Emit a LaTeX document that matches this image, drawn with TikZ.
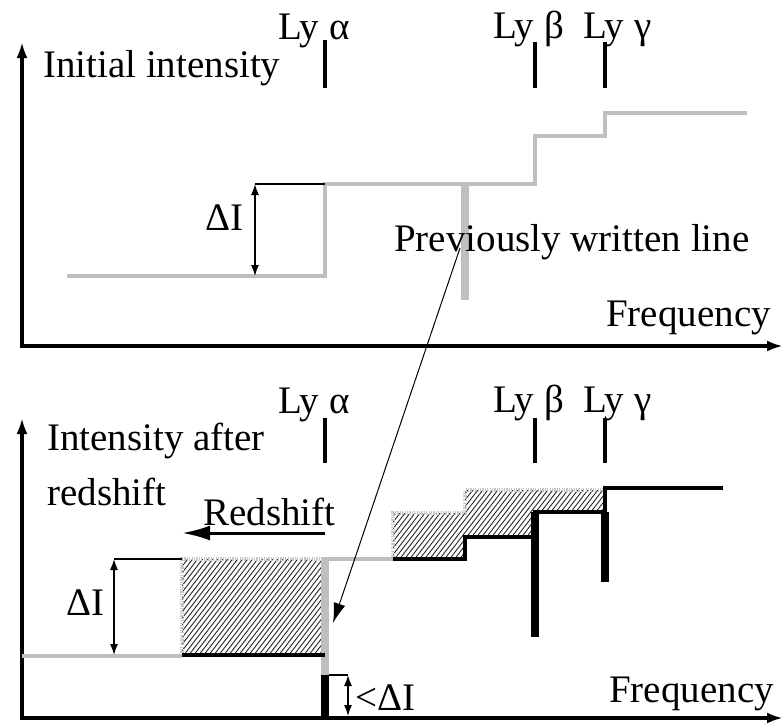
\documentclass[tikz,border=0pt]{standalone}
\usepackage{fontspec}
\setmainfont{Liberation Serif}
\usetikzlibrary{arrows.meta}
\begin{document}
\begin{tikzpicture}[x=1pt,y=-1pt,
  lbl/.style={inner sep=0pt,anchor=base west,font=\fontsize{39}{41}\selectfont},
  axis/.style={line width=3.5pt,{Latex[length=16pt,width=11pt]}-{Latex[length=16pt,width=11pt]}},
  grayline/.style={line width=4pt,draw=gray!50},
  blackline/.style={line width=4pt,draw=black},
  tickmark/.style={line width=4pt},
  thin/.style={line width=1.1pt},
  dimarrow/.style={line width=1.3pt,{Latex[length=11pt,width=8pt]}-{Latex[length=11pt,width=8pt]}},
  dotgray/.style={line width=3.5pt,draw=gray!45,dash pattern=on 1.2pt off 1.2pt},
  hatchline/.style={line width=0.9pt,draw=black!85}]
\useasboundingbox (0,0) rectangle (784,723);
% ---------------- top panel ----------------
\coordinate (ya1) at (22,42);
\coordinate (o1) at (22,346);
\coordinate (xa1) at (783,346);
\draw[axis] (ya1) -- (o1) -- (xa1);
\node[lbl] (ii) at (43,77) {Initial intensity};
\node[lbl] (la1) at (278,39) {Ly α};
\node[lbl] (lb1) at (493,38) {Ly β};
\node[lbl] (lg1) at (583,38) {Ly γ};
\coordinate (ta1) at (325,40); \coordinate (ta1b) at (325,88);
\coordinate (tb1) at (535,42); \coordinate (tb1b) at (535,88);
\coordinate (tg1) at (605,42); \coordinate (tg1b) at (605,88);
\draw[tickmark] (ta1) -- (ta1b);
\draw[tickmark] (tb1) -- (tb1b);
\draw[tickmark] (tg1) -- (tg1b);
\coordinate (p0) at (67,276);
\coordinate (p1) at (325,276);
\coordinate (p2) at (325,184);
\coordinate (p3) at (535,184);
\coordinate (p4) at (535,136);
\coordinate (p5) at (605,136);
\coordinate (p6) at (605,113);
\coordinate (p7) at (747,113);
\draw[grayline] (p0) -- (p1) -- (p2) -- (p3) -- (p4) -- (p5) -- (p6) -- (p7);
\coordinate (d1t) at (255,184);
\coordinate (d1b) at (255,276);
\draw[thin] (d1t) -- (p2);
\draw[dimarrow] (d1t) -- (d1b);
\node[lbl] (di1) at (205,230) {ΔI};
\coordinate (pw1) at (465,184);
\coordinate (pw2) at (465,300);
\draw[line width=8pt,draw=gray!50] (pw1) -- (pw2);
\node[lbl] (prev) at (394,251) {Previously written line};
\node[lbl] (f1) at (606,326) {Frequency};
% ---------------- bottom panel ----------------
\coordinate (ya2) at (22,418);
\coordinate (o2) at (22,718);
\coordinate (xa2) at (783,718);
\draw[axis] (ya2) -- (o2) -- (xa2);
\node[lbl] (ia) at (47,450) {Intensity after};
\node[lbl] (rs) at (47,505) {redshift};
\node[lbl] (la2) at (278,413) {Ly α};
\node[lbl] (lb2) at (493,412) {Ly β};
\node[lbl] (lg2) at (583,412) {Ly γ};
\coordinate (ta2) at (325,418); \coordinate (ta2b) at (325,463);
\coordinate (tb2) at (535,418); \coordinate (tb2b) at (535,463);
\coordinate (tg2) at (605,418); \coordinate (tg2b) at (605,463);
\draw[tickmark] (ta2) -- (ta2b);
\draw[tickmark] (tb2) -- (tb2b);
\draw[tickmark] (tg2) -- (tg2b);
% hatched areas
\coordinate (h1) at (182,559); \coordinate (h2) at (325,655);
\coordinate (q1) at (393,513); \coordinate (q2) at (465,513);
\coordinate (q3) at (465,490); \coordinate (q4) at (605,490);
\coordinate (q5) at (605,512); \coordinate (q6) at (535,512);
\coordinate (q7) at (535,537); \coordinate (q8) at (465,537);
\coordinate (q9) at (465,559); \coordinate (q10) at (393,559);
\begin{scope}
  \clip (h1) rectangle (h2);
  \foreach \i in {0,5,...,300} \draw[hatchline] (60+\i,660) -- ++(80,-104);
\end{scope}
\begin{scope}
  \clip (q1) -- (q2) -- (q3) -- (q4) -- (q5) -- (q6) -- (q7) -- (q8) -- (q9) -- (q10) -- cycle;
  \foreach \i in {0,5,...,300} \draw[hatchline] (320+\i,565) -- ++(64,-83);
\end{scope}
% dotted shifted profile
\coordinate (s0) at (182,655); \coordinate (s1) at (325,559);
\draw[dotgray] (s0) -- (h1) -- (s1);
\draw[dotgray] (q10) -- (q1) -- (q2) -- (q3) -- (q4);
% gray solid parts
\coordinate (g0) at (22,656); \coordinate (g1) at (182,656);
\draw[grayline] (g0) -- (g1);
\coordinate (gv) at (325,675);
\draw[line width=8pt,draw=gray!50] (gv) -- (325,557);
\draw[grayline] (323,559) -- (q10);
% black absorbed profile
\draw[blackline] (s0) -- (h2);
\coordinate (r7) at (723,488);
\coordinate (r6) at (605,488);
\draw[blackline] (q10) -- (q9) -- (q8) -- (q7) -- (q6) -- (q5) -- (r6) -- (r7);
\coordinate (bb) at (535,637);
\coordinate (bg) at (605,582);
\draw[line width=8pt] (q6) -- (bb);
\draw[line width=8pt] (q5) -- (bg);
\draw[line width=8pt] (gv) -- (325,716);
% redshift arrow
\coordinate (ra1) at (325,533); \coordinate (ra2) at (182,533);
\draw[line width=3pt,-{Latex[length=28pt,width=15pt]}] (ra1) -- (ra2);
\node[lbl] (rl) at (203,525) {Redshift};
% Delta I bottom
\coordinate (d2t) at (114,559); \coordinate (d2b) at (114,655);
\draw[thin] (d2t) -- (h1);
\draw[dimarrow] (d2t) -- (d2b);
\node[lbl] (di2) at (66,615) {ΔI};
% < Delta I
\coordinate (e0) at (329,675); \coordinate (e1) at (348,675); \coordinate (e2) at (348,716);
\draw[thin] (e0) -- (e1);
\draw[dimarrow] (e1) -- (e2);
\node[lbl] (ldi) at (355,710) {<ΔI};
\node[lbl] (f2) at (609,702) {Frequency};
% long arrow
\coordinate (la) at (460,248);
\coordinate (lt) at (333,623);
\draw[line width=1pt,-{Latex[length=20pt,width=12pt]}] (la) -- (lt);
\end{tikzpicture}
\end{document}
